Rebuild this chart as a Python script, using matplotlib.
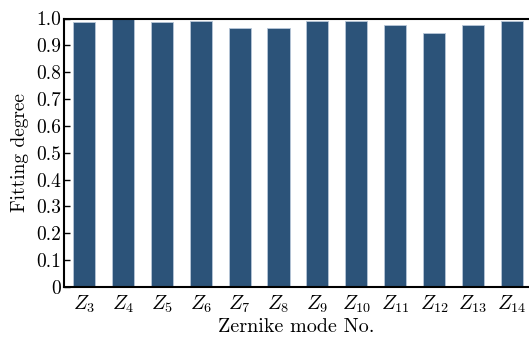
import numpy as np
import matplotlib
matplotlib.use('Agg')
import matplotlib.pyplot as plt

## Fitting degree per Zernike mode
modes   = [3, 4, 5, 6, 7, 8, 9, 10, 11, 12, 13, 14]
fitting = [0.988, 0.998, 0.987, 0.992, 0.965, 0.965, 0.992, 0.992, 0.975, 0.945, 0.975, 0.992]
yticks  = [0, 0.1, 0.2, 0.3, 0.4, 0.5, 0.6, 0.7, 0.8, 0.9, 1.0]
ylabels = ['0', '0.1', '0.2', '0.3', '0.4', '0.5', '0.6', '0.7', '0.8', '0.9', '1.0']

plt.rcParams['font.family'] = 'cmr10'
plt.rcParams['mathtext.fontset'] = 'cm'
plt.rcParams['axes.formatter.use_mathtext'] = True

fig = plt.figure(figsize=(5.29, 3.38), dpi=100)
ax = fig.add_axes([64/529, 1 - 287/338, 1 - 64/529, (287 - 18.5)/338])

x = np.arange(len(modes))
ax.bar(x, fitting, width=0.57, color='#2c5379', edgecolor='#b7c6d8', linewidth=0.6)

ax.set_xlim(-0.514, 11.44)
ax.set_ylim(0, 1.0)
ax.set_xticks(x)
ax.set_xticklabels([rf'$Z_{{{m}}}$' for m in modes], fontsize=14.5)
ax.set_yticks(yticks)
ax.set_yticklabels(ylabels, fontsize=14)

ax.tick_params(axis='y', direction='in', length=4, width=1, pad=2)
ax.tick_params(axis='x', length=0, pad=5)

ax.spines['right'].set_visible(False)
for side in ['top', 'bottom', 'left']:
    ax.spines[side].set_linewidth(1.5)

ax.set_xlabel('Zernike mode No.', fontsize=14.5, labelpad=2)
ax.set_ylabel('Fitting degree', fontsize=14, labelpad=5)

fig.savefig('out.png', dpi=100)
